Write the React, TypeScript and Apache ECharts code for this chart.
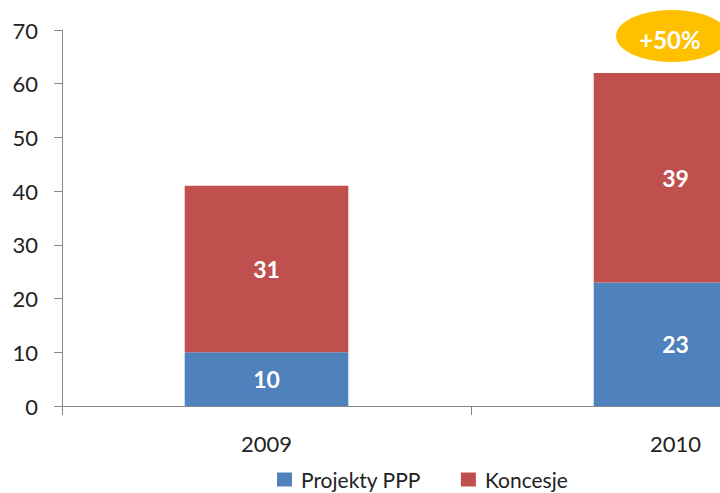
import React, { useEffect, useRef } from "react";
import * as echarts from "echarts";

const categories = ["2009", "2010"];
const projektyPPP = [10, 23];
const koncesje = [31, 39];
const seriesNames = ["Projekty PPP", "Koncesje"];
const badgeText = "+50%";

const FONT = "Lato, 'Open Sans', 'DejaVu Sans', sans-serif";

export default function App() {
  const ref = useRef<HTMLDivElement>(null);
  useEffect(() => {
    document.body.style.margin = "0";
    const chart = echarts.init(ref.current!, undefined, { renderer: "svg" });
    const labelStyle = {
      show: true,
      position: "inside" as const,
      color: "#fff",
      fontWeight: "bold" as const,
      fontSize: 23,
      fontFamily: FONT,
    };
    chart.setOption({
      animation: false,
      backgroundColor: "#fff",
      textStyle: { fontFamily: FONT },
      grid: { left: 62, right: 20, top: 30, bottom: 87, containLabel: false },
      legend: {
        data: seriesNames,
        top: 469,
        left: 277,
        padding: 0,
        icon: "rect",
        itemWidth: 15,
        itemHeight: 14,
        itemGap: 40,
        textStyle: { fontSize: 21, lineHeight: 20, color: "#222", fontFamily: FONT, padding: [0, 0, 0, 4] },
      },
      xAxis: {
        type: "category",
        data: categories,
        axisLine: { lineStyle: { color: "#868686" } },
        axisTick: { show: true, length: 9, lineStyle: { color: "#868686" } },
        axisLabel: { fontSize: 22, color: "#222", margin: 26, fontFamily: FONT },
      },
      yAxis: {
        type: "value",
        min: 0,
        max: 70,
        interval: 10,
        axisLine: { show: true, lineStyle: { color: "#868686" } },
        axisTick: { show: true, length: 8, lineStyle: { color: "#868686" } },
        splitLine: { show: false },
        axisLabel: { fontSize: 22, color: "#222", margin: 24, fontFamily: FONT },
      },
      series: [
        {
          name: seriesNames[0],
          type: "bar",
          stack: "total",
          data: projektyPPP,
          barWidth: "40%",
          itemStyle: { color: "#4F81BD" },
          label: labelStyle,
        },
        {
          name: seriesNames[1],
          type: "bar",
          stack: "total",
          data: koncesje,
          barWidth: "40%",
          itemStyle: { color: "#C0504D" },
          label: labelStyle,
        },
      ],
      graphic: [
        {
          type: "ellipse",
          shape: { cx: 672, cy: 36, rx: 56, ry: 26 },
          style: { fill: "#FFC000" },
        },
        {
          type: "text",
          x: 670,
          y: 39,
          style: {
            text: badgeText,
            fill: "#fff",
            fontSize: 24,
            fontWeight: "bold",
            fontFamily: FONT,
            align: "center",
            verticalAlign: "middle",
          },
        },
      ],
    });
    return () => chart.dispose();
  }, []);
  return (
    <div style={{ width: 720, height: 493, overflow: "hidden" }}>
      <div ref={ref} style={{ width: 900, height: 493 }} />
    </div>
  );
}
